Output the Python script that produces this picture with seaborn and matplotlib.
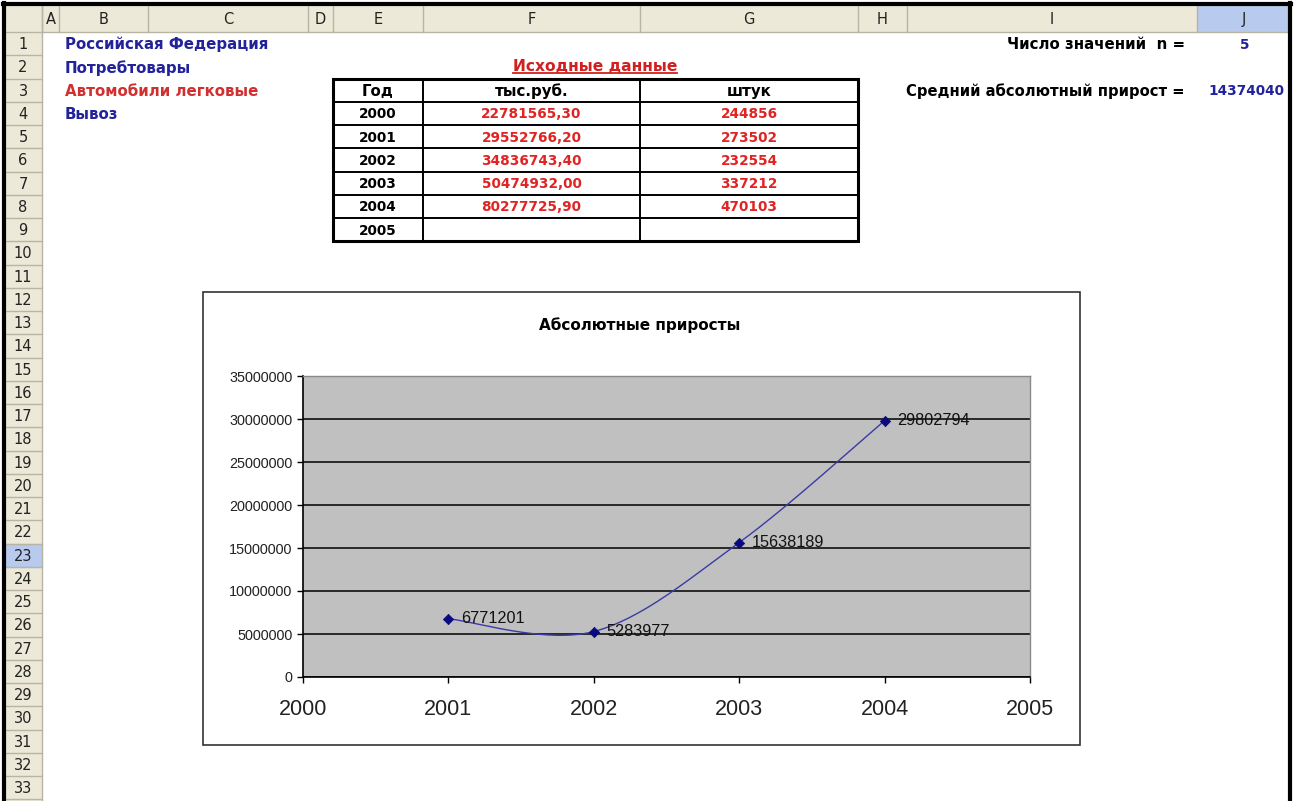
import numpy as np
import pandas as pd
import matplotlib
matplotlib.use("Agg")
import matplotlib.pyplot as plt
from matplotlib.patches import Rectangle
import seaborn as sns

# ---------------- data ----------------
years = [2000, 2001, 2002, 2003, 2004, 2005]
rub_values = ["22781565,30", "29552766,20", "34836743,40", "50474932,00", "80277725,90", ""]
unit_values = ["244856", "273502", "232554", "337212", "470103", ""]
growth_years = [2001, 2002, 2003, 2004]
growth_values = [6771201, 5283977, 15638189, 29802794]
n_values = 5
mean_growth = 14374040
info_lines = ["Российская Федерация", "Потребтовары", "Автомобили легковые", "Вывоз"]
info_colors = ["#22229a", "#22229a", "#d03030", "#22229a"]
col_names = ["", "A", "B", "C", "D", "E", "F", "G", "H", "I", "J"]
row_numbers = list(range(1, 34))
y_ticks = [0, 5000000, 10000000, 15000000, 20000000, 25000000, 30000000, 35000000]
chart_title = "Абсолютные приросты"
table_title = "Исходные данные"
table_head = ["Год", "тыс.руб.", "штук"]

# ---------------- layout ----------------
W, H = 1300, 801
fig = plt.figure(figsize=(W / 100, H / 100), dpi=100)
fig.patch.set_facecolor("white")
bg = fig.add_axes([0, 0, 1, 1])
bg.set_xlim(0, W)
bg.set_ylim(H, 0)
bg.axis("off")

col_edges = [4, 42, 59, 148, 308, 333, 423, 640, 858, 907, 1197, 1290]
hdr_top, hdr_bot = 5, 32
row_h = 23.25


def row_top(k):
    return hdr_bot + (k - 1) * row_h


def row_mid(k):
    return row_top(k) + row_h / 2


HDR = "#ece9d8"
HDR_LINE = "#b9b5a5"
SEL = "#b8cbee"
BOLD = dict(family="DejaVu Sans", fontweight="bold")
FS_TXT = 10.8
FS_NUM = 9.8

# column header
bg.add_patch(Rectangle((col_edges[0], hdr_top), col_edges[-1] - col_edges[0], hdr_bot - hdr_top,
                       facecolor=HDR, edgecolor="none"))
bg.add_patch(Rectangle((col_edges[-2], hdr_top), col_edges[-1] - col_edges[-2], hdr_bot - hdr_top,
                       facecolor=SEL, edgecolor="none"))
for i, name in enumerate(col_names):
    x0, x1 = col_edges[i], col_edges[i + 1]
    bg.plot([x1, x1], [hdr_top, hdr_bot], color=HDR_LINE, lw=1)
    bg.text((x0 + x1) / 2, (hdr_top + hdr_bot) / 2 + 1, name, ha="center", va="center",
            fontsize=10.5, color="#222222", family="DejaVu Sans")
bg.plot([col_edges[0], col_edges[-1]], [hdr_bot, hdr_bot], color=HDR_LINE, lw=1)

# row header
bg.add_patch(Rectangle((col_edges[0], hdr_bot), col_edges[1] - col_edges[0], H - hdr_bot,
                       facecolor=HDR, edgecolor="none"))
for k in row_numbers:
    t = row_top(k)
    if k == 23:
        bg.add_patch(Rectangle((col_edges[0], t), col_edges[1] - col_edges[0], row_h,
                               facecolor=SEL, edgecolor="#6d8fd0", lw=0.8))
    bg.plot([col_edges[0], col_edges[1]], [t + row_h, t + row_h], color=HDR_LINE, lw=1)
    bg.text((col_edges[0] + col_edges[1]) / 2, row_mid(k) + 1, str(k), ha="center", va="center",
            fontsize=10.5, color="#222222", family="DejaVu Sans")
bg.plot([col_edges[1], col_edges[1]], [hdr_top, H], color=HDR_LINE, lw=1)

# outer window frame
bg.plot([4, 4], [3, H], color="black", lw=3)
bg.plot([3, 1291], [4, 4], color="black", lw=3)
bg.plot([1290, 1290], [3, H], color="black", lw=3)

# info texts (B1:B4)
for i, (txt, c) in enumerate(zip(info_lines, info_colors)):
    bg.text(65, row_mid(i + 1) + 1, txt, ha="left", va="center", fontsize=FS_TXT, color=c, **BOLD)

# table title with underline
tt = bg.text(595, row_mid(2), table_title, ha="center", va="center",
             fontsize=11.2, color="#d02020", **BOLD)

# table E3:G9
tx = [333, 423, 640, 858]
ty0, ty1 = row_top(3), row_top(10)
for k in range(4, 10):
    bg.plot([tx[0], tx[-1]], [row_top(k), row_top(k)], color="black", lw=1.4)
for x in tx[1:-1]:
    bg.plot([x, x], [ty0, ty1], color="black", lw=1.4)
bg.add_patch(Rectangle((tx[0], ty0), tx[-1] - tx[0], ty1 - ty0, facecolor="none",
                       edgecolor="black", lw=2.2))
for j, h in enumerate(table_head):
    bg.text((tx[j] + tx[j + 1]) / 2, row_mid(3) + 1, h, ha="center", va="center",
            fontsize=FS_TXT, color="black", **BOLD)
for i, (yr, r, u) in enumerate(zip(years, rub_values, unit_values)):
    k = 4 + i
    bg.text((tx[0] + tx[1]) / 2, row_mid(k) + 1, str(yr), ha="center", va="center",
            fontsize=FS_NUM, color="black", **BOLD)
    bg.text((tx[1] + tx[2]) / 2, row_mid(k) + 1, r, ha="center", va="center",
            fontsize=FS_NUM, color="#e02424", **BOLD)
    bg.text((tx[2] + tx[3]) / 2, row_mid(k) + 1, u, ha="center", va="center",
            fontsize=FS_NUM, color="#e02424", **BOLD)

# right-hand summary
bg.text(1185, row_mid(1) + 1, "Число значений  n =", ha="right", va="center",
        fontsize=FS_TXT, color="black", **BOLD)
bg.text(1245, row_mid(1) + 1, str(n_values), ha="center", va="center",
        fontsize=FS_NUM, color="#22229a", **BOLD)
bg.text(1185, row_mid(3) + 1, "Средний абсолютный прирост =", ha="right", va="center",
        fontsize=10.6, color="black", **BOLD)
bg.text(1284, row_mid(3) + 1, str(mean_growth), ha="right", va="center",
        fontsize=FS_NUM, color="#22229a", **BOLD)

# chart frame
bg.add_patch(Rectangle((203, 292), 1080 - 203, 745 - 292, facecolor="white",
                       edgecolor="#333333", lw=1.2))
bg.text(640, 325, chart_title, ha="center", va="center", fontsize=11, color="black", **BOLD)

# ---------------- chart ----------------
px_l, px_r, px_t, px_b = 303, 1030, 376, 677
ax = fig.add_axes([px_l / W, (H - px_b) / H, (px_r - px_l) / W, (px_b - px_t) / H])
ax.set_facecolor("#c0c0c0")


def excel_smooth(xs, ys, n=60):
    P = np.column_stack([xs, ys]).astype(float)
    m = len(P)
    parts = []
    t = np.linspace(0, 1, n)[:, None]
    for i in range(m - 1):
        p0 = P[i - 1] if i > 0 else P[i]
        p1, p2 = P[i], P[i + 1]
        p3 = P[i + 2] if i + 2 < m else P[i + 1]
        c1 = p1 + (p2 - p0) / 6
        c2 = p2 - (p3 - p1) / 6
        seg = (1 - t) ** 3 * p1 + 3 * (1 - t) ** 2 * t * c1 + 3 * (1 - t) * t ** 2 * c2 + t ** 3 * p2
        parts.append(seg if i == 0 else seg[1:])
    return np.vstack(parts)


curve = excel_smooth(growth_years, growth_values)
curve_df = pd.DataFrame({"x": curve[:, 0], "y": curve[:, 1]})
pts_df = pd.DataFrame({"x": growth_years, "y": growth_values})

ax.set_xlim(2000, 2005)
ax.set_ylim(0, 35000000)
ax.set_yticks(y_ticks)
ax.set_xticks(years)
ax.set_axisbelow(True)
ax.grid(axis="y", color="black", lw=1.1)
ax.grid(axis="x", visible=False)
ax.get_ygridlines()[-1].set_visible(False)

sns.lineplot(data=curve_df, x="x", y="y", sort=False, estimator=None, color="#3a3aa8",
             lw=1.0, ax=ax, zorder=3)
sns.scatterplot(data=pts_df, x="x", y="y", marker="D", s=28, color="#0a0a80",
                edgecolor="#0a0a80", linewidth=0.5, ax=ax, zorder=4)
for xv, yv in zip(growth_years, growth_values):
    ax.annotate(str(yv), (xv, yv), xytext=(9, 0), textcoords="offset points",
                ha="left", va="center", fontsize=11.7, color="#111111",
                family="Liberation Sans", zorder=5)

ax.set_xlabel("")
ax.set_ylabel("")
ax.yaxis.set_major_formatter(matplotlib.ticker.FuncFormatter(lambda v, p: f"{int(v)}"))
ax.tick_params(axis="y", direction="out", length=4, width=1, pad=3.5, labelsize=10.4,
               labelcolor="#222222", color="black")
ax.tick_params(axis="x", direction="out", length=4.5, width=1, pad=11, labelsize=15.5,
               labelcolor="#222222", color="black")
for lab in ax.get_xticklabels() + ax.get_yticklabels():
    lab.set_family("Liberation Sans")
for s in ["left", "bottom"]:
    ax.spines[s].set_color("black")
    ax.spines[s].set_linewidth(1.2)
for s in ["top", "right"]:
    ax.spines[s].set_color("#8a8a8a")
    ax.spines[s].set_linewidth(1.0)

# underline for table title
fig.canvas.draw()
bb = tt.get_window_extent()
inv = bg.transData.inverted()
(x0u, y0u), (x1u, y1u) = inv.transform([[bb.x0, bb.y0], [bb.x1, bb.y1]])
bg.plot([x0u, x1u], [y0u - 1, y0u - 1], color="#d02020", lw=1.3)

fig.savefig("out.png", dpi=100, facecolor="white")
